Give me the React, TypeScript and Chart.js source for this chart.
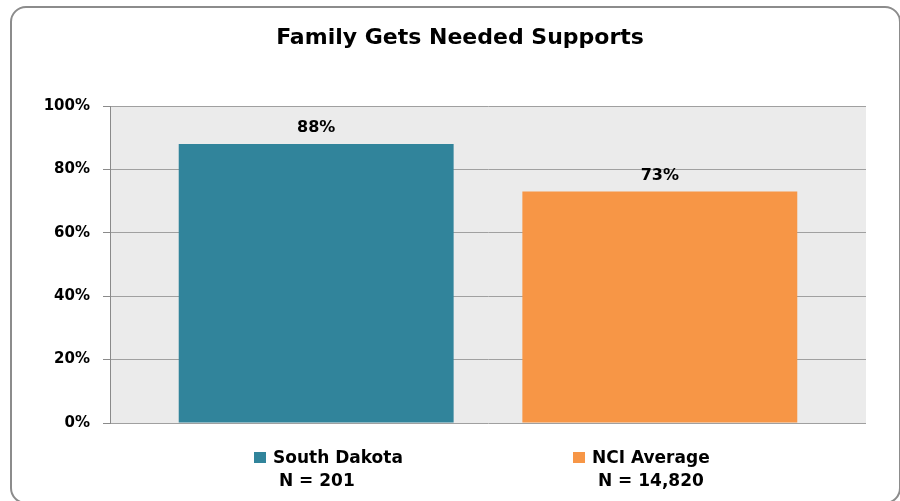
import React, { useEffect, useRef } from "react";
import { Chart, registerables } from "chart.js";

Chart.register(...registerables);

const chartTitle = "Family Gets Needed Supports";
const categories = ["South Dakota", "NCI Average"];
const sampleSizes = ["N = 201", "N = 14,820"];
const values = [88, 73];
const barColors = ["#31849B", "#F79646"];
const yTickValues = [0, 20, 40, 60, 80, 100];

const FONT = "'DejaVu Sans', sans-serif";

export default function App() {
  const canvasRef = useRef<HTMLCanvasElement | null>(null);

  useEffect(() => {
    const canvas = canvasRef.current;
    if (!canvas) return;

    const bgPlugin = {
      id: "plotBg",
      beforeDraw(chart: any) {
        const { ctx, chartArea } = chart;
        ctx.save();
        ctx.fillStyle = "#EBEBEB";
        ctx.fillRect(chartArea.left, chartArea.top, chartArea.right - chartArea.left, chartArea.bottom - chartArea.top);
        ctx.restore();
      },
    };

    const decorPlugin = {
      id: "decor",
      afterDraw(chart: any) {
        const { ctx } = chart;
        ctx.save();
        // Title
        ctx.fillStyle = "#000";
        ctx.font = `bold 22px ${FONT}`;
        ctx.textAlign = "center";
        ctx.textBaseline = "alphabetic";
        ctx.fillText(chartTitle, 460, 44);

        // Data labels
        const meta = chart.getDatasetMeta(0);
        ctx.font = `bold 16px ${FONT}`;
        meta.data.forEach((el: any, i: number) => {
          ctx.fillText(`${values[i]}%`, el.x, el.y - 12);
        });

        // Legend
        const legendX = [254, 573];
        ctx.textAlign = "left";
        ctx.font = `bold 17px ${FONT}`;
        categories.forEach((cat, i) => {
          const x = legendX[i];
          ctx.fillStyle = barColors[i];
          ctx.fillRect(x, 452, 12, 11);
          ctx.fillStyle = "#000";
          ctx.fillText(cat, x + 19, 463);
          ctx.fillText(" " + sampleSizes[i], x + 19, 486);
        });
        ctx.restore();
      },
    };

    const chart = new Chart(canvas, {
      type: "bar",
      data: {
        datasets: [
          {
            label: chartTitle,
            data: values.map((v, i) => ({ x: i, y: v })),
            backgroundColor: barColors,
            borderWidth: 0,
            barPercentage: 0.8,
            categoryPercentage: 1,
          },
        ],
      },
      options: {
        animation: false,
        responsive: false,
        maintainAspectRatio: false,
        layout: { padding: { left: 0, right: 34, top: 106, bottom: 78 } },
        plugins: {
          legend: { display: false },
          tooltip: { enabled: false },
          title: { display: false },
        },
        scales: {
          x: {
            type: "linear",
            min: -0.6,
            max: 1.6,
            offset: false,
            display: false,
            afterBuildTicks: (s: any) => {
              s.ticks = categories.map((_, i) => ({ value: i }));
            },
          },
          y: {
            min: 0,
            max: 100,
            afterBuildTicks: (s: any) => {
              s.ticks = yTickValues.map((v) => ({ value: v }));
            },
            afterFit: (s: any) => {
              s.width = 110;
            },
            ticks: {
              callback: (v: any) => `${v}%`,
              color: "#000",
              font: { family: FONT, weight: "bold", size: 15 },
              padding: 13,
            },
            grid: {
              color: "#A0A0A0",
              lineWidth: 1,
              tickLength: 7,
              tickColor: "#8A8A8A",
            },
            border: { display: true, color: "#8A8A8A", width: 1 },
          },
        },
      } as any,
      plugins: [bgPlugin, decorPlugin],
    });

    return () => chart.destroy();
  }, []);

  return (
    <div style={{ position: "fixed", left: 0, top: 0, width: 900, height: 501, overflow: "hidden", background: "#fff" }}>
      <div
        style={{
          position: "absolute",
          left: 10,
          top: 6,
          width: 891,
          height: 498,
          border: "2px solid #8C8C8C",
          borderRadius: 16,
          boxSizing: "border-box",
        }}
      />
      <canvas ref={canvasRef} width={900} height={501} style={{ position: "absolute", left: 0, top: 0 }} />
    </div>
  );
}
